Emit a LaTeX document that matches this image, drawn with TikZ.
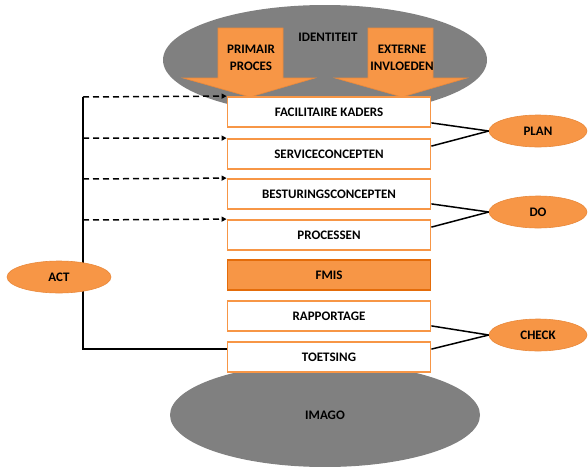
\documentclass[tikz,border=0pt]{standalone}
\usepackage{fontspec}
\setmainfont{Carlito}
\usetikzlibrary{arrows.meta,shapes.geometric}

\definecolor{fmorange}{HTML}{F79646}
\definecolor{fmdark}{HTML}{E46C0A}
\definecolor{fmgray}{HTML}{808080}

\tikzset{
  layer/.style={draw=fmorange, line width=1.8pt, fill=white, minimum width=203pt,
    minimum height=30pt, inner sep=0pt, font=\fontsize{13}{15}\selectfont\bfseries},
  pdca/.style={ellipse, draw=fmdark!80, line width=0.6pt, fill=fmorange, minimum width=98pt,
    minimum height=32pt, inner sep=0pt, font=\fontsize{13}{15}\selectfont\bfseries},
  bigarrow/.style={draw=fmdark!80, line width=0.6pt, fill=fmorange},
  label/.style={font=\fontsize{13}{17}\selectfont\bfseries, align=center, inner sep=0pt},
  link/.style={line width=1.5pt},
  actarrow/.style={line width=1.5pt, dash pattern=on 6pt off 4pt, -{Triangle[length=5pt,width=5pt]}}
}

\begin{document}
\begin{tikzpicture}[x=1pt, y=-1pt]
\useasboundingbox (0,0) rectangle (588,466);
\clip (0,0) rectangle (588,466);

% identiteit en imago
\fill[fmgray] (325,60) ellipse [x radius=162, y radius=55];
	\node[label] (identiteit) at (328,37) {IDENTITEIT};
\fill[fmgray] (325,415) ellipse [x radius=155, y radius=52];
	\node[label] (imago) at (325,415) {IMAGO};

% arrows
\draw[bigarrow] (218,28) -- (283,28) -- (283,78) -- (315,78) -- (250,97) -- (183,78) -- (218,78) -- cycle;
	\node[label] (primair) at (251,58) {PRIMAIR\\PROCES};
\draw[bigarrow] (368,28) -- (433,28) -- (433,78) -- (467,78) -- (402,97) -- (335,78) -- (368,78) -- cycle;
	\node[label] (extern) at (402,58) {EXTERNE\\INVLOEDEN};

% layers
\node[layer] (kaders) at (329,112) {FACILITAIRE KADERS};
\node[layer] (service) at (329,154) {SERVICECONCEPTEN};
\node[layer] (sturing) at (329,194) {BESTURINGSCONCEPTEN};
\node[layer] (proces) at (329,235) {PROCESSEN};
\node[layer, fill=fmorange, draw=fmdark] (fmis) at (329,275) {FMIS};
\node[layer] (rapport) at (329,316) {RAPPORTAGE};
\node[layer] (toets) at (329,357) {TOETSING};

% act
\coordinate (top) at (83,97);
\coordinate (bot) at (83,349);
\draw[link] (top) -- (bot) -- (bot -| toets.west);
\draw[actarrow] (top) -- (kaders.north west);
\draw[actarrow] (83,138) -- (service.north west);
\draw[actarrow] (83,179) -- (sturing.north west);
\draw[actarrow] (83,220) -- (proces.north west);
\node[pdca, minimum width=104pt] (act) at (59,277) {ACT};

% plan, do, check
\node[pdca] (plan) at (538,131) {PLAN};
\node[pdca] (do) at (538,212) {DO};
\node[pdca] (check) at (538,335) {CHECK};
\draw[link] ([yshift=5pt]kaders.south east) -- (plan.west);
\draw[link] ([yshift=-8pt]service.north east) -- (plan.west);
\draw[link] ([yshift=6pt]sturing.south east) -- (do.west);
\draw[link] ([yshift=-8pt]proces.north east) -- (do.west);
\draw[link] ([yshift=6pt]rapport.south east) -- (check.west);
\draw[link] ([yshift=-8pt]toets.north east) -- (check.west);
\end{tikzpicture}
\end{document}
